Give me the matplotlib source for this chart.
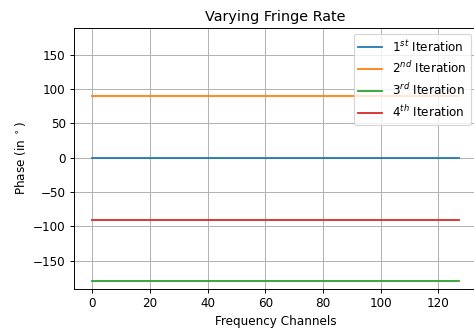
import numpy as np
import matplotlib.pyplot as plt

# phase per iteration across the frequency channels
n_channels = 128
channels = np.arange(n_channels)
phase_levels = [0, 90, -180, -90]
labels = [r'1$^{st}$ Iteration', r'2$^{nd}$ Iteration',
          r'3$^{rd}$ Iteration', r'4$^{th}$ Iteration']

dpi = 86
fig = plt.figure(figsize=(474 / dpi, 331 / dpi), dpi=dpi)
ax = fig.add_axes([74 / 474, 42 / 331, 403 / 474, 261 / 331])

for level, lab in zip(phase_levels, labels):
    ax.plot(channels, np.full(n_channels, level), label=lab)

ax.set_ylim(-191, 189)
ax.set_title('Varying Fringe Rate')
ax.set_xlabel('Frequency Channels')
ax.set_ylabel(r'Phase (in $^\circ$)')
ax.grid()
ax.legend(loc='upper right')

fig.savefig('out.png', dpi=dpi)
